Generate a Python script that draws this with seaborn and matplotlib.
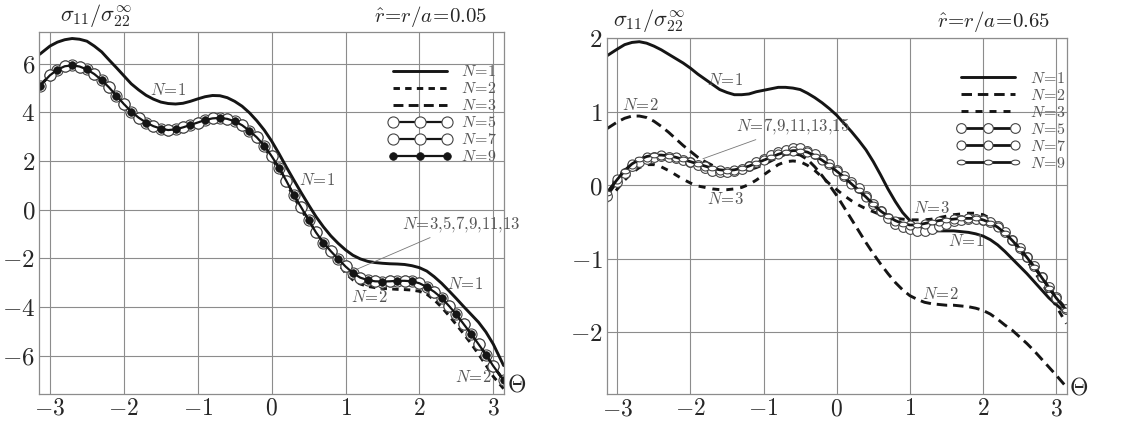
import matplotlib
matplotlib.use("Agg")
import matplotlib.pyplot as plt
import matplotlib.path as mpath
import matplotlib.transforms as mtrans
import seaborn as sns

# sample angles (Theta)
theta = [-3.14, -3.0, -2.9, -2.8, -2.7, -2.6, -2.5, -2.4, -2.3, -2.2, -2.1,
         -2.0, -1.9, -1.8, -1.7, -1.6, -1.5, -1.4, -1.3, -1.2, -1.1,
         -1.0, -0.9, -0.8, -0.7, -0.6, -0.5, -0.4, -0.3, -0.2, -0.1,
         0.0, 0.1, 0.2, 0.3, 0.4, 0.5, 0.6, 0.7, 0.8, 0.9,
         1.0, 1.1, 1.2, 1.3, 1.4, 1.5, 1.6, 1.7, 1.8, 1.9,
         2.0, 2.1, 2.2, 2.3, 2.4, 2.5, 2.6, 2.7, 2.8, 2.9, 3.0, 3.14]

# left panel, r/a = 0.05
left_n1 = [6.38, 6.72, 6.88, 6.98, 7.03, 7.0, 6.92, 6.72, 6.48, 6.15, 5.83,
           5.5, 5.17, 4.92, 4.7, 4.54, 4.42, 4.36, 4.34, 4.37, 4.45,
           4.55, 4.64, 4.69, 4.68, 4.6, 4.45, 4.25, 3.98, 3.65, 3.27,
           2.82, 2.3, 1.75, 1.22, 0.7, 0.2, -0.28, -0.7, -1.07, -1.38,
           -1.65, -1.87, -2.02, -2.12, -2.17, -2.2, -2.22, -2.23, -2.25, -2.3,
           -2.38, -2.52, -2.75, -3.02, -3.33, -3.65, -3.98, -4.3, -4.62, -5.02, -5.52, -6.4]
left_n2 = [5.0, 5.44, 5.67, 5.81, 5.85, 5.8, 5.68, 5.49, 5.24, 4.94, 4.6,
           4.26, 3.95, 3.7, 3.5, 3.35, 3.25, 3.19, 3.22, 3.3, 3.4,
           3.5, 3.6, 3.67, 3.69, 3.65, 3.55, 3.39, 3.16, 2.89, 2.55,
           2.12, 1.64, 1.1, 0.52, 0.02, -0.5, -1.05, -1.45, -1.8, -2.2,
           -2.6, -2.88, -3.05, -3.15, -3.2, -3.23, -3.25, -3.27, -3.28, -3.3,
           -3.35, -3.47, -3.7, -4.0, -4.35, -4.72, -5.1, -5.5, -5.93, -6.38, -6.85, -7.35]
# N=3,5,7,9,11,13 coincide
left_conv = [5.08, 5.52, 5.75, 5.89, 5.93, 5.88, 5.76, 5.57, 5.32, 5.02, 4.68,
             4.34, 4.03, 3.78, 3.58, 3.43, 3.33, 3.27, 3.3, 3.38, 3.48,
             3.58, 3.68, 3.75, 3.77, 3.73, 3.63, 3.47, 3.24, 2.97, 2.63,
             2.2, 1.72, 1.18, 0.6, 0.1, -0.42, -0.93, -1.35, -1.7, -2.02,
             -2.33, -2.6, -2.79, -2.89, -2.94, -2.95, -2.94, -2.92, -2.92, -2.94,
             -3.02, -3.17, -3.37, -3.62, -3.95, -4.3, -4.7, -5.1, -5.52, -5.95, -6.42, -7.0]

# right panel, r/a = 0.65
right_n1 = [1.76, 1.85, 1.91, 1.94, 1.95, 1.93, 1.89, 1.84, 1.78, 1.72, 1.66,
            1.59, 1.51, 1.44, 1.37, 1.3, 1.26, 1.23, 1.23, 1.24, 1.27,
            1.29, 1.31, 1.33, 1.33, 1.32, 1.3, 1.25, 1.19, 1.12, 1.04,
            0.95, 0.84, 0.73, 0.61, 0.48, 0.32, 0.14, -0.05, -0.22, -0.37,
            -0.48, -0.56, -0.6, -0.62, -0.62, -0.62, -0.62, -0.63, -0.64, -0.66,
            -0.69, -0.74, -0.81, -0.9, -1.0, -1.1, -1.2, -1.31, -1.42, -1.53, -1.62, -1.74]
right_n2 = [0.77, 0.86, 0.91, 0.94, 0.94, 0.92, 0.87, 0.8, 0.72, 0.63, 0.54,
            0.46, 0.38, 0.32, 0.27, 0.23, 0.21, 0.2, 0.2, 0.21, 0.24,
            0.28, 0.33, 0.38, 0.42, 0.43, 0.41, 0.35, 0.25, 0.13, 0.0,
            -0.14, -0.3, -0.46, -0.62, -0.78, -0.93, -1.07, -1.2, -1.32, -1.42,
            -1.5, -1.55, -1.59, -1.61, -1.62, -1.63, -1.63, -1.64, -1.65, -1.67,
            -1.7, -1.75, -1.82, -1.9, -1.97, -2.06, -2.15, -2.25, -2.36, -2.47, -2.58, -2.74]
right_n3 = [-0.22, -0.05, 0.07, 0.17, 0.24, 0.28, 0.28, 0.25, 0.2, 0.14, 0.08,
            0.03, -0.01, -0.03, -0.05, -0.06, -0.06, -0.05, -0.03, 0.01, 0.07,
            0.14, 0.21, 0.28, 0.32, 0.33, 0.32, 0.27, 0.2, 0.11, 0.02,
            -0.06, -0.14, -0.21, -0.27, -0.32, -0.36, -0.4, -0.43, -0.45, -0.46,
            -0.47, -0.47, -0.47, -0.46, -0.44, -0.42, -0.4, -0.39, -0.38, -0.38,
            -0.4, -0.45, -0.53, -0.63, -0.75, -0.88, -1.02, -1.17, -1.32, -1.48, -1.64, -1.88]
right_n5 = [-0.14, 0.05, 0.17, 0.26, 0.32, 0.36, 0.39, 0.4, 0.39, 0.37, 0.34,
            0.31, 0.27, 0.23, 0.2, 0.18, 0.18, 0.19, 0.22, 0.26, 0.31,
            0.36, 0.41, 0.45, 0.48, 0.5, 0.5, 0.47, 0.42, 0.36, 0.29,
            0.21, 0.13, 0.05, -0.04, -0.14, -0.25, -0.35, -0.44, -0.52, -0.57,
            -0.6, -0.62, -0.62, -0.6, -0.56, -0.52, -0.49, -0.47, -0.46, -0.46,
            -0.47, -0.5, -0.56, -0.64, -0.74, -0.85, -0.97, -1.1, -1.24, -1.38, -1.52, -1.68]
# N=7,9,11,13,15 coincide
right_conv = [-0.1, 0.08, 0.2, 0.29, 0.35, 0.39, 0.41, 0.41, 0.4, 0.38, 0.35,
              0.32, 0.29, 0.26, 0.23, 0.21, 0.2, 0.21, 0.23, 0.26, 0.3,
              0.34, 0.38, 0.42, 0.45, 0.47, 0.47, 0.45, 0.4, 0.34, 0.27,
              0.19, 0.11, 0.02, -0.07, -0.16, -0.26, -0.35, -0.42, -0.48, -0.52,
              -0.54, -0.54, -0.52, -0.5, -0.48, -0.47, -0.46, -0.45, -0.45, -0.45,
              -0.47, -0.51, -0.57, -0.65, -0.75, -0.86, -0.98, -1.11, -1.25, -1.39, -1.53, -1.7]

x_ticks = [-3, -2, -1, 0, 1, 2, 3]
left_yticks = [-6, -4, -2, 0, 2, 4, 6]
right_yticks = [-2, -1, 0, 1, 2]
legend_labels = ["$N\\!=\\!1$", "$N\\!=\\!2$", "$N\\!=\\!3$",
                 "$N\\!=\\!5$", "$N\\!=\\!7$", "$N\\!=\\!9$"]

sns.set_style("white")
plt.rcParams["mathtext.fontset"] = "cm"
plt.rcParams["font.family"] = ["DejaVu Serif"]

INK = "#151515"
GREY = "#8c8c8c"
TXT = "#555555"

fig = plt.figure(figsize=(11.28, 4.21), dpi=100)
ax1 = fig.add_axes([0.0348, 0.064, 0.412, 0.859])
ax2 = fig.add_axes([0.5379, 0.0634, 0.4078, 0.8463])


def curve(ax, y, **kw):
    sns.lineplot(x=theta, y=y, ax=ax, color=INK, sort=False, errorbar=None, **kw)
    return ax.lines[-1]


def style_axes(ax, yticks, ylim):
    ax.set_xlim(-3.145, 3.145)
    ax.set_ylim(*ylim)
    ax.set_xticks(x_ticks, labels=["$%d$" % t for t in x_ticks])
    ax.set_yticks(yticks, labels=["$%d$" % t for t in yticks])
    ax.tick_params(axis="x", length=0, pad=2, labelsize=17)
    ax.tick_params(axis="y", length=0, pad=3, labelsize=18)
    ax.grid(True, color=GREY, lw=0.8)
    for s in ax.spines.values():
        s.set_color(GREY)
        s.set_linewidth(0.9)
    ax.set_xlabel("")
    ax.set_ylabel("")


open_c = dict(marker="o", markerfacecolor="white", markeredgecolor="#444444", markeredgewidth=0.8)
leg_kw = dict(loc="upper left", frameon=False, borderpad=0, borderaxespad=0,
              handlelength=4.0, handletextpad=0.6, labelspacing=0.0, numpoints=3,
              fontsize=11.5, labelcolor=TXT)
ann = dict(color=TXT, fontsize=12, ha="center", va="center")

# ---- left panel
h = []
h.append(curve(ax1, left_n1, lw=2.1))
h.append(curve(ax1, left_n2, lw=2.1, linestyle=(0, (2.2, 1.8))))
h.append(curve(ax1, left_conv, lw=2.1, linestyle=(0, (3.4, 1.8))))
h.append(curve(ax1, left_conv, lw=1.6, markersize=8, **open_c))
h.append(curve(ax1, left_conv, lw=1.6, markersize=8, markevery=(1, 2), **open_c))
h.append(curve(ax1, left_conv, lw=1.6, marker="o", markersize=5.5, markevery=(0, 2),
               markerfacecolor=INK, markeredgecolor=INK, markeredgewidth=0.5))
style_axes(ax1, left_yticks, (-7.57, 7.28))
ax1.legend(h, legend_labels, bbox_to_anchor=(0.75, 0.915), **leg_kw)

ax1.text(-1.4, 4.9, "$N\\!=\\!1$", **ann)
ax1.text(0.62, 1.2, "$N\\!=\\!1$", **ann)
ax1.text(2.62, -3.06, "$N\\!=\\!1$", **ann)
ax1.text(1.32, -3.62, "$N\\!=\\!2$", **ann)
ax1.text(2.73, -6.9, "$N\\!=\\!2$", **ann)
ax1.annotate("$N\\!=\\!3{,}5{,}7{,}9{,}11{,}13$", xy=(1.15, -2.45), xytext=(1.76, -0.6),
             color=TXT, fontsize=12, ha="left", va="center",
             arrowprops=dict(arrowstyle="-", color="#777777", lw=0.6, shrinkA=0, shrinkB=0))

ax1.text(0.045, 1.01, "$\\sigma_{11}/\\sigma_{22}^{\\infty}$", transform=ax1.transAxes,
         fontsize=16, ha="left", va="bottom")
ax1.text(0.963, 1.01, "$\\hat{r}\\!=\\!r/a\\!=\\!0.05$", transform=ax1.transAxes,
         fontsize=15, ha="right", va="bottom")
ax1.text(1.006, 0.025, "$\\Theta$", transform=ax1.transAxes, fontsize=17,
         ha="left", va="center")

# ---- right panel
oval = mpath.Path.unit_circle().transformed(mtrans.Affine2D().scale(1.6, 0.9))
h = []
h.append(curve(ax2, right_n1, lw=2.1))
h.append(curve(ax2, right_n2, lw=2.1, linestyle=(0, (3.6, 2.0))))
h.append(curve(ax2, right_n3, lw=2.1, linestyle=(0, (2.4, 2.4))))
h.append(curve(ax2, right_n5, lw=2.0, markersize=7, **open_c))
h.append(curve(ax2, right_conv, lw=2.0, markersize=6.5, markevery=(1, 2), **open_c))
h.append(curve(ax2, right_conv, lw=2.0, marker=oval, markersize=6, markevery=(0, 2),
               markerfacecolor="white", markeredgecolor="#444444", markeredgewidth=0.8))
style_axes(ax2, right_yticks, (-2.84, 2.0))
ax2.legend(h, legend_labels, bbox_to_anchor=(0.76, 0.91), **leg_kw)

ax2.text(-1.52, 1.42, "$N\\!=\\!1$", **ann)
ax2.text(-2.69, 1.08, "$N\\!=\\!2$", **ann)
ax2.text(-1.52, -0.2, "$N\\!=\\!3$", **ann)
ax2.text(1.29, -0.32, "$N\\!=\\!3$", **ann)
ax2.text(1.77, -0.77, "$N\\!=\\!1$", **ann)
ax2.text(1.42, -1.48, "$N\\!=\\!2$", **ann)
ax2.annotate("$N\\!=\\!7{,}9{,}11{,}13{,}15$", xy=(-1.83, 0.36), xytext=(-1.38, 0.8),
             color=TXT, fontsize=12, ha="left", va="center",
             arrowprops=dict(arrowstyle="-", color="#777777", lw=0.6, shrinkA=0, shrinkB=0))

ax2.text(0.014, 1.01, "$\\sigma_{11}/\\sigma_{22}^{\\infty}$", transform=ax2.transAxes,
         fontsize=16, ha="left", va="bottom")
ax2.text(0.964, 1.01, "$\\hat{r}\\!=\\!r/a\\!=\\!0.65$", transform=ax2.transAxes,
         fontsize=15, ha="right", va="bottom")
ax2.text(1.004, 0.018, "$\\Theta$", transform=ax2.transAxes, fontsize=17,
         ha="left", va="center")

fig.savefig("out.png", dpi=100)
